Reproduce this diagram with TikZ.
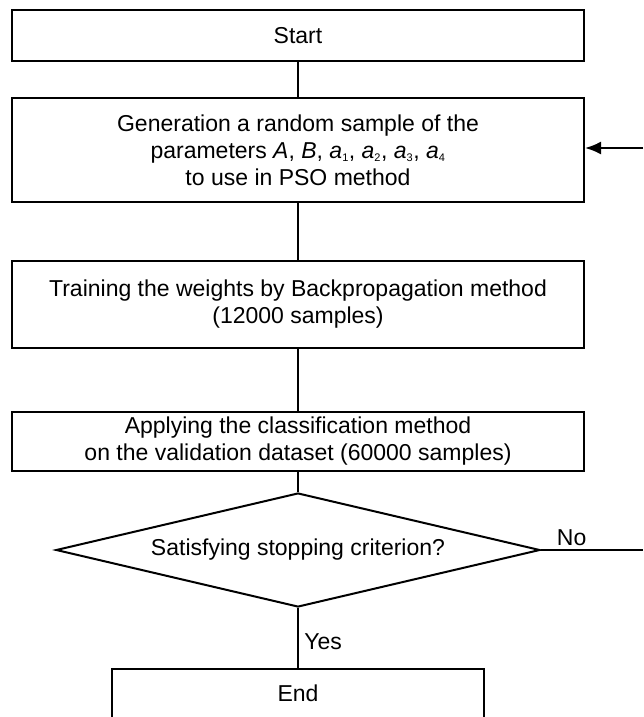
\documentclass[tikz,border=0pt]{standalone}
\usepackage{fontspec}
\setmainfont{Liberation Sans}
\usetikzlibrary{shapes.geometric,arrows.meta,positioning}

\newcommand{\smallidx}[1]{\textsubscript{\fontsize{11}{11}\selectfont #1}}

\begin{document}
\begin{tikzpicture}[x=1pt, y=-1pt, line width=2pt,
    block/.style={draw, rectangle, minimum width=572pt, align=center, inner sep=0pt, font=\fontsize{23}{27}\selectfont},
    decision/.style={draw, diamond, aspect=4.25, minimum width=484pt, minimum height=114pt, inner sep=0pt, font=\fontsize{23}{27}\selectfont},
    lbl/.style={font=\fontsize{23}{27}\selectfont}]
        \useasboundingbox (0,0) rectangle (643,717);

        % Start
        \node[block, minimum height=51pt] (start) at (298,35.5) {Start};

        % Random sample of the parameters
        \node[block, minimum height=104pt] (gen) at (298,150) {Generation a random sample of the\\
            parameters \textit{A}, \textit{B}, \textit{a}\smallidx{1}, \textit{a}\smallidx{2}, \textit{a}\smallidx{3}, \textit{a}\smallidx{4}\\
            to use in PSO method};

        % Backpropagation training
        \node[block, minimum height=87pt] (train) at (298,304.5) {Training the weights by Backpropagation method\\(12000 samples)};

        % Classification on validation set
        \node[block, minimum height=59pt] (apply) at (298,441.5) {Applying the classification method\\on the validation dataset (60000 samples)};

        % Stopping test
        \node[decision] (stop) at (298,550) {Satisfying stopping criterion?};

        % End (cut off at the bottom)
        \node[block, minimum width=372pt, minimum height=80pt, text height=16pt, text depth=32pt, anchor=north] (finish) at (298,668) {End};

        % Loop ends at the right edge
        \coordinate (noout) at (643,550);
        \coordinate (backin) at (643,148);

        % Connecting lines
        \draw (start) -- (gen);
        \draw (gen) -- (train);
        \draw (train) -- (apply);
        \draw (apply) -- (stop);
        \draw (stop) -- node[lbl, right, xshift=2pt, yshift=-4pt] (yes) {Yes} (finish);
        \draw (stop.east) -- node[lbl, above, pos=0.3] (no) {No} (noout);
        \draw[-{Latex[length=16pt, width=13pt]}] (backin) -- (gen.east |- backin);
\end{tikzpicture}
\end{document}
